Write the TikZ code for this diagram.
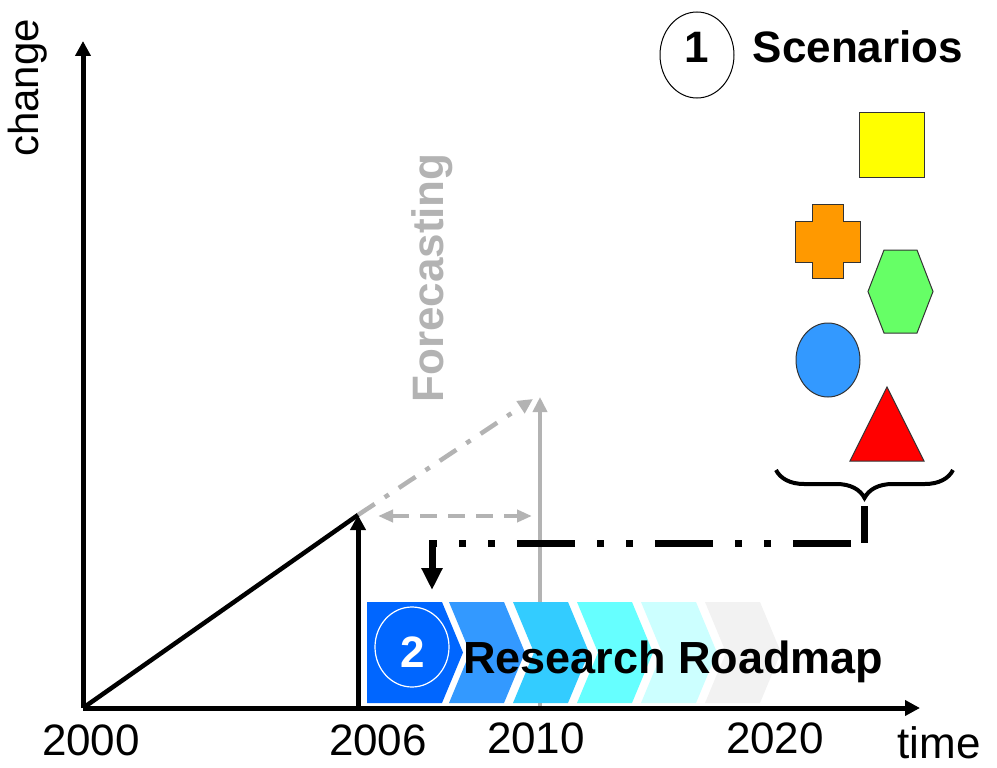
\documentclass[tikz,border=0pt]{standalone}
\usepackage{fontspec}
\setmainfont{Liberation Sans}
\usetikzlibrary{arrows.meta,decorations.pathreplacing,shapes.geometric}
\definecolor{fcgray}{HTML}{B3B3B3}
\definecolor{rmA}{HTML}{0066FF}
\definecolor{rmB}{HTML}{3399FF}
\definecolor{rmC}{HTML}{33CCFF}
\definecolor{rmD}{HTML}{66FFFF}
\definecolor{rmE}{HTML}{CCFFFF}
\definecolor{rmF}{HTML}{F2F2F2}
\definecolor{scYellow}{HTML}{FFFF00}
\definecolor{scOrange}{HTML}{FF9900}
\definecolor{scGreen}{HTML}{66FF66}
\definecolor{scBlue}{HTML}{3399FF}
\definecolor{scRed}{HTML}{FF0000}

\begin{document}
\begin{tikzpicture}[x=1pt,y=-1pt,
    axis/.style={line width=5pt,-{Triangle[length=15pt,width=15pt]}},
    grayline/.style={fcgray,line width=4.5pt},
    lbl/.style={inner sep=0pt,anchor=base,font=\fontsize{44}{50}\selectfont},
    blbl/.style={inner sep=0pt,anchor=base,font=\fontsize{44}{50}\selectfont\bfseries},
    scshape/.style={draw=black!80,line width=1pt}]
\useasboundingbox (0,0) rectangle (997,768);

\coordinate (O) at (83,708);
\coordinate (ytop) at (83,41);
\coordinate (xend) at (920,708);
\coordinate (t6) at (358,708);
\coordinate (p6) at (358,515);
\coordinate (t10) at (540,708);
\coordinate (p10) at (540,397);
\coordinate (fc) at (533,399);
\coordinate (dl) at (378,516);
\coordinate (dr) at (532,516);

\draw[grayline,-{Triangle[length=15pt,width=14pt]}] (t10) -- (p10);
\draw[grayline,dash pattern=on 20pt off 12pt on 5pt off 12pt,-{Triangle[length=15pt,width=14pt]}] (p6) -- (fc);
\draw[grayline,dash pattern=on 17pt off 11pt,{Triangle[length=15pt,width=12pt]}-{Triangle[length=15pt,width=12pt]}] (dl) -- (dr);

\fill[rmA] (367,602) -- (442,602) -- (463,652.5) -- (442,703) -- (367,703) -- cycle;
\fill[rmB] (449,602) -- ++(55,0) -- ++(21,50.5) -- ++(-21,50.5) -- ++(-55,0) -- ++(21,-50.5) -- cycle;
\fill[rmC] (513,602) -- ++(55,0) -- ++(21,50.5) -- ++(-21,50.5) -- ++(-55,0) -- ++(21,-50.5) -- cycle;
\fill[rmD] (577,602) -- ++(55,0) -- ++(21,50.5) -- ++(-21,50.5) -- ++(-55,0) -- ++(21,-50.5) -- cycle;
\fill[rmE] (641,602) -- ++(55,0) -- ++(21,50.5) -- ++(-21,50.5) -- ++(-55,0) -- ++(21,-50.5) -- cycle;
\fill[rmF] (705,602) -- ++(55,0) -- ++(21,50.5) -- ++(-21,50.5) -- ++(-55,0) -- ++(21,-50.5) -- cycle;

\node[ellipse,draw=white,line width=1.2pt,minimum width=74pt,minimum height=80pt] (rm2) at (412,647) {};
\node[blbl,white] (two) at (413,667) {2};
\node[blbl,anchor=base west,font=\fontsize{45}{50}\selectfont\bfseries] (roadmap) at (463,673) {Research Roadmap};

\draw[axis] (O) -- (ytop);
\draw[axis] (O) -- (xend);
\draw[line width=4.5pt] (O) -- (p6);
\draw[axis] (t6) -- (p6);

\node[lbl] (y2000) at (91,755) {2000};
\node[lbl] (y2006) at (378,755) {2006};
\node[lbl] (y2010) at (536,753) {2010};
\node[lbl] (y2020) at (775,753) {2020};
\node[lbl] (time) at (939,758) {time};
\node[inner sep=0pt,rotate=90,font=\fontsize{42}{48}\selectfont] (change) at (28,88) {change};
\node[inner sep=0pt,rotate=90,fcgray,font=\fontsize{44}{50}\selectfont\bfseries] (fcast) at (432,278) {Forecasting};

\node[ellipse,draw,line width=1pt,minimum width=74pt,minimum height=86pt] (sc1) at (697,55) {};
\node[blbl] (one) at (697,63) {1};
\node[blbl] (scen) at (858,63) {Scenarios};

\filldraw[scshape,fill=scYellow] (859,113) rectangle (924,177);
\filldraw[scshape,fill=scOrange] (812,204) -- (843,204) -- (843,221) -- (860,221) -- (860,262) -- (843,262) -- (843,278) -- (812,278) -- (812,262) -- (795,262) -- (795,221) -- (812,221) -- cycle;
\filldraw[scshape,fill=scGreen] (884,250) -- (917,250) -- (933,291.5) -- (917,333) -- (884,333) -- (868,291.5) -- cycle;
\filldraw[scshape,fill=scBlue] (828,360) ellipse [x radius=32pt,y radius=37pt];
\filldraw[scshape,fill=scRed] (887,387) -- (924,461) -- (850,461) -- cycle;

\draw[line width=4pt,decorate,decoration={brace,amplitude=28pt}] (953,470) -- (776,470);

\coordinate (bt) at (864,506);
\coordinate (bc) at (864,543);
\coordinate (rc) at (432,543);
\coordinate (rd) at (432,590);
\draw[line width=7pt] (bt) -- (bc);
\draw[line width=7pt,dash pattern=on 58pt off 22pt on 7pt off 22pt on 7pt off 22pt,dash phase=125pt,-{Triangle[length=22pt,width=20pt]}] (bc) -- (rc) -- (rd);
\end{tikzpicture}
\end{document}
